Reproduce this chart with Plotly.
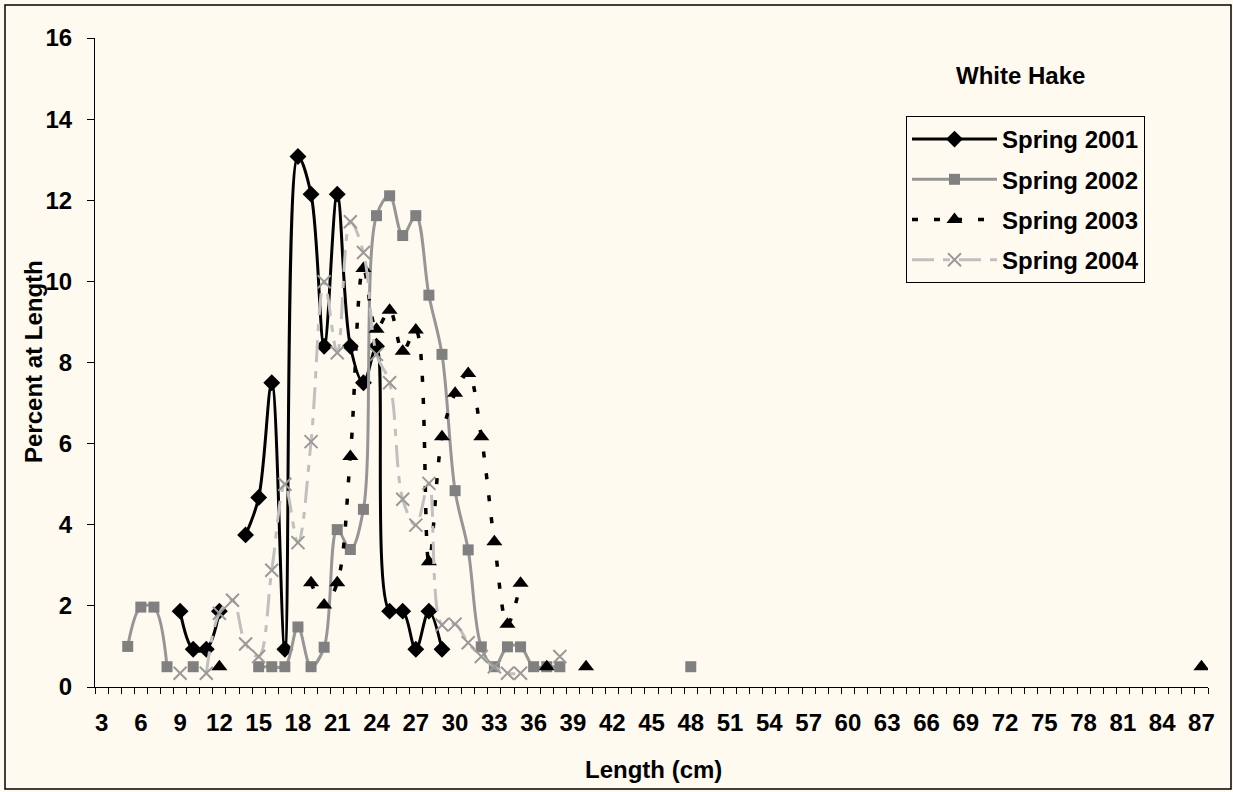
import plotly.graph_objects as go

# ---------------- data ----------------
len_2001 = [9, 10, 11, 12, 13, 14, 15, 16, 17, 18, 19, 20, 21, 22, 23, 24, 25, 26, 27, 28, 29]
pct_2001 = [1.87, 0.93, 0.93, 1.87, None, 3.75, 4.67, 7.5, 0.93, 13.08, 12.15, 8.4, 12.15, 8.4, 7.5, 8.4,
            1.87, 1.87, 0.93, 1.87, 0.93]

len_2002 = [5, 6, 7, 8, 9, 10, 11, 15, 16, 17, 18, 19, 20, 21, 22, 23, 24, 25, 26, 27, 28, 29, 30, 31,
            32, 33, 34, 35, 36, 37, 38, 39, 48]
pct_2002 = [1.0, 1.97, 1.97, 0.5, None, 0.5, None, 0.5, 0.5, 0.5, 1.48, 0.5, 0.98, 3.88, 3.39, 4.38,
            11.62, 12.11, 11.13, 11.62, 9.66, 8.2, 4.84, 3.38, 0.99, 0.5, 0.99, 0.99, 0.5, 0.5, 0.5, None, 0.5]

len_2003 = [12, 13, 19, 20, 21, 22, 23, 24, 25, 26, 27, 28, 29, 30, 31, 32, 33, 34, 35, 36, 37, 38, 40, 41, 87]
pct_2003 = [0.5, None, 2.57, 2.02, 2.57, 5.68, 10.32, 8.82, 9.29, 8.28, 8.8, 3.09, 6.17, 7.24, 7.73,
            6.17, 3.58, 1.55, 2.56, None, 0.5, None, 0.5, None, 0.5]

len_2004 = [9, 10, 11, 12, 13, 14, 15, 16, 17, 18, 19, 20, 21, 22, 23, 24, 25, 26, 27, 28, 29, 30, 31,
            32, 33, 34, 35, 36, 38]
pct_2004 = [0.34, None, 0.34, 1.82, 2.14, 1.06, 0.75, 2.88, 5.0, 3.56, 6.05, 9.99, 8.24, 11.47, 10.71,
            8.2, 7.5, 4.63, 3.99, 5.02, 1.53, 1.55, 1.09, 0.75, 0.5, 0.34, 0.34, None, 0.75]

tick_labels = list(range(3, 88, 3))

# ---------------- figure ----------------
BG = "#FFFAF0"
FONT = "Liberation Sans, Arial, sans-serif"
FS = 24

fig = go.Figure()

fig.add_trace(go.Scatter(
    x=len_2001, y=pct_2001, name="Spring 2001", mode="lines+markers",
    line=dict(color="black", width=3, shape="spline", smoothing=1),
    marker=dict(symbol="diamond", size=13, color="black"), legendgroup="a"))
fig.add_trace(go.Scatter(
    x=len_2002, y=pct_2002, name="Spring 2002", mode="lines+markers",
    line=dict(color="#969696", width=3, shape="spline", smoothing=1),
    marker=dict(symbol="square", size=11, color="#808080"), legendgroup="b"))
fig.add_trace(go.Scatter(
    x=len_2003, y=pct_2003, name="Spring 2003", mode="lines+markers",
    line=dict(color="black", width=3.5, shape="spline", smoothing=1, dash="6px,16px"),
    marker=dict(symbol="triangle-up", size=14, color="black"), legendgroup="c"))
fig.add_trace(go.Scatter(
    x=len_2004, y=pct_2004, name="Spring 2004", mode="lines+markers",
    line=dict(color="#C0C0C0", width=3, shape="spline", smoothing=1, dash="22px,9px,7px,9px"),
    marker=dict(symbol="x-thin-open", size=13, color="#999999", line=dict(color="#999999", width=2)),
    legendgroup="d"))

fig.update_layout(
    width=1233, height=792,
    margin=dict(l=95, r=25, t=38, b=105),
    paper_bgcolor=BG, plot_bgcolor=BG,
    font=dict(family=FONT, size=FS, color="black", weight="bold"),
    showlegend=True,
    legend=dict(x=(906 - 95) / 1113, y=(687 - 116) / 649, xanchor="left", yanchor="top",
                bgcolor=BG, bordercolor="black", borderwidth=1,
                font=dict(family=FONT, size=FS, color="black", weight="bold"),
                traceorder="grouped", tracegroupgap=6, itemwidth=85),
)

fig.update_xaxes(
    range=[2.5, 87.5], tickvals=tick_labels, ticktext=[str(v) for v in tick_labels],
    ticks="", ticklabelstandoff=14,
    minor=dict(ticks="outside", tick0=2.5, dtick=1, ticklen=6, tickcolor="black", showgrid=False),
    showline=True, linecolor="black", linewidth=1, showgrid=False, zeroline=False,
    tickfont=dict(family=FONT, size=FS, color="black", weight="bold"),
)
fig.update_yaxes(
    range=[0, 16], dtick=2, tick0=0, ticks="outside", ticklen=7, tickcolor="black",
    ticklabelstandoff=10,
    showline=True, linecolor="black", linewidth=1, showgrid=False, zeroline=False,
    tickfont=dict(family=FONT, size=FS, color="black", weight="bold"),
)

# axis titles and chart label
fig.add_annotation(x=(33 - 95) / 1113, y=(687 - 362) / 649, xref="paper", yref="paper",
                   xanchor="center", yanchor="middle",
                   text="Percent at Length", textangle=-90, showarrow=False,
                   font=dict(family=FONT, size=FS, weight="bold"))
fig.add_annotation(x=(653 - 95) / 1113, y=(687 - 769) / 649, xref="paper", yref="paper",
                   xanchor="center", yanchor="middle",
                   text="Length (cm)", showarrow=False, font=dict(family=FONT, size=FS, weight="bold"))
fig.add_annotation(x=(1020 - 95) / 1113, y=(687 - 75) / 649, xref="paper", yref="paper",
                   xanchor="center", yanchor="middle",
                   text="White Hake", showarrow=False, font=dict(family=FONT, size=FS, weight="bold"))

# outer chart border
fig.add_shape(type="rect", xref="paper", yref="paper",
              x0=(5 - 95) / 1113, x1=(1231 - 95) / 1113,
              y0=(687 - 789) / 649, y1=(687 - 5) / 649,
              line=dict(color="black", width=1.5), fillcolor="rgba(0,0,0,0)", layer="below")

fig.write_html("out.html", config={"displayModeBar": False},
               post_script="document.body.style.margin='0';document.body.style.overflow='hidden';")
